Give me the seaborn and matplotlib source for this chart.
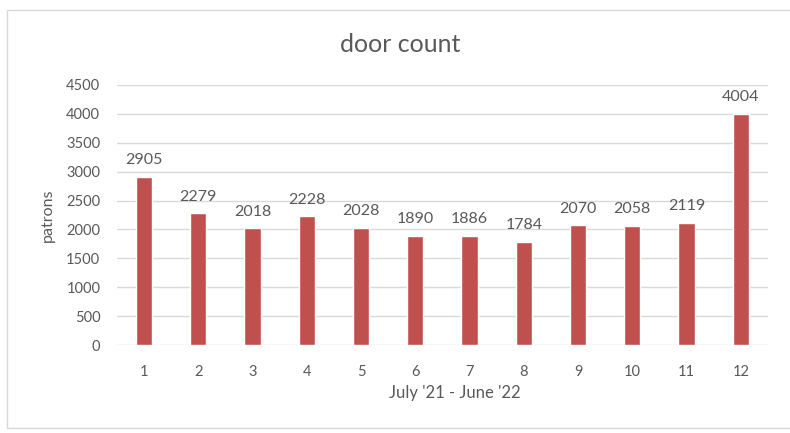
import matplotlib
matplotlib.use("Agg")
import matplotlib.pyplot as plt
import seaborn as sns
import pandas as pd
from matplotlib.patches import Rectangle

# monthly door counts, July '21 - June '22
months = ["1", "2", "3", "4", "5", "6", "7", "8", "9", "10", "11", "12"]
patrons = [2905, 2279, 2018, 2228, 2028, 1890, 1886, 1784, 2070, 2058, 2119, 4004]
y_ticks = [0, 500, 1000, 1500, 2000, 2500, 3000, 3500, 4000, 4500]

df = pd.DataFrame({"month": months, "patrons": patrons})

sns.set_style("white")
plt.rcParams["font.family"] = ["Lato", "DejaVu Sans"]
text_color = "#595959"

fig = plt.figure(figsize=(7.9, 4.33), dpi=100)
ax = fig.add_axes([0.148, 0.203, 0.824, 0.601])

sns.barplot(data=df, x="month", y="patrons", color="#C0504D", width=0.3,
            saturation=1, ax=ax, zorder=3)

for i, v in enumerate(patrons):
    ax.annotate(str(v), (i, v), xytext=(0, 7), textcoords="offset points",
                ha="center", va="bottom", fontsize=11.5, color=text_color)

ax.set_ylim(0, 4500)
ax.set_yticks(y_ticks)
ax.set_xlim(-0.5, 11.5)
ax.yaxis.grid(True, color="#D9D9D9", linewidth=1, zorder=0)
ax.set_axisbelow(True)
for s in ax.spines.values():
    s.set_visible(False)
ax.tick_params(axis="both", length=0, labelsize=10.5, labelcolor=text_color)
ax.tick_params(axis="x", pad=14)
ax.tick_params(axis="y", pad=12)

fig.text(400 / 790, 1 - 44 / 433, "door count", fontsize=18, color=text_color,
         ha="center", va="center")
ax.set_xlabel("July '21 - June '22", fontsize=12, color=text_color, labelpad=6)
ax.xaxis.set_label_coords(0.519, -0.155)
ax.set_ylabel("patrons", fontsize=11.5, color=text_color, labelpad=8)

# light frame around the chart
fig.patches.append(Rectangle((7 / 790, 5 / 433), 1.2, 1 - 15 / 433,
                             transform=fig.transFigure, fill=False,
                             edgecolor="#D9D9D9", linewidth=1))

fig.savefig("out.png", dpi=100)
